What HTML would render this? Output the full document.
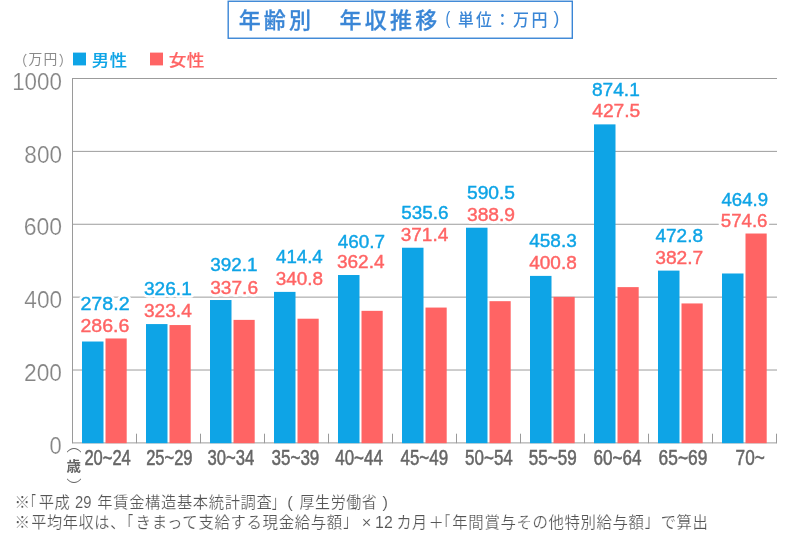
<!DOCTYPE html>
<html lang="ja"><head><meta charset="utf-8"><title>年齢別 年収推移</title>
<style>
html,body{margin:0;padding:0;background:#fff;}
body{width:800px;height:533px;overflow:hidden;}
svg{display:block;}
text{font-family:"Liberation Sans", "Noto Sans CJK JP", sans-serif;white-space:pre;}
.title{font-size:22px;font-weight:500;letter-spacing:3.2px;fill:#3a86d6;stroke:#3a86d6;stroke-width:0.25px;}
.sub{font-size:16px;font-weight:500;letter-spacing:2.4px;fill:#3a86d6;}
.subc{font-size:16px;font-weight:500;fill:#3a86d6;}
.subp{font-size:18px;font-weight:400;fill:#3a86d6;}
.unit{font-size:13.5px;font-weight:400;letter-spacing:1.2px;fill:#8a8a8a;}
.unitp{font-size:13.5px;font-weight:400;fill:#8a8a8a;}
.legm{font-size:17.5px;font-weight:500;letter-spacing:0.5px;fill:#0ea4e6;stroke:#0ea4e6;stroke-width:0.12px;}
.legf{font-size:17.5px;font-weight:500;letter-spacing:0.5px;fill:#ff6464;stroke:#ff6464;stroke-width:0.12px;}
.yl{font-size:23.5px;font-weight:400;fill:#858585;stroke:#fff;stroke-width:0.2px;}
.xl{font-size:20px;font-weight:400;fill:#666;stroke:#666;stroke-width:0.5px;}
.vm{font-size:18px;font-weight:400;fill:#0ea4e6;stroke:#0ea4e6;stroke-width:0.4px;}
.vf{font-size:18px;font-weight:400;fill:#ff6464;stroke:#ff6464;stroke-width:0.4px;}
.age{font-size:14.5px;font-weight:700;fill:#666;}
.agep{font-size:14.5px;font-weight:300;fill:#666;}
.note{font-size:15.5px;font-weight:400;letter-spacing:0.6px;fill:#555;stroke:#fff;stroke-width:0.2px;}
.noten{font-size:16.5px;font-weight:400;fill:#555;stroke:#fff;stroke-width:0.12px;}
.halo{fill:#fff;stroke:#fff;stroke-width:5.4px;stroke-linejoin:round;}
</style></head><body>
<svg width="800" height="533" viewBox="0 0 800 533">
<rect width="800" height="533" fill="#fff"/>
<rect x="228.2" y="1.25" width="344.1" height="37.0" fill="#fff" stroke="#3a86d6" stroke-width="1.4"/>
<rect x="73" y="52.6" width="13" height="12.8" fill="#0ea4e6"/>
<rect x="150" y="52.6" width="13" height="12.8" fill="#ff6464"/>
<line x1="72" y1="78.5" x2="777" y2="78.5" stroke="#9c9c9c" stroke-width="1"/>
<line x1="72" y1="151.38" x2="777" y2="151.38" stroke="#9c9c9c" stroke-width="1"/>
<line x1="72" y1="224.26" x2="777" y2="224.26" stroke="#9c9c9c" stroke-width="1"/>
<line x1="72" y1="297.14" x2="777" y2="297.14" stroke="#9c9c9c" stroke-width="1"/>
<line x1="72" y1="370.02" x2="777" y2="370.02" stroke="#9c9c9c" stroke-width="1"/>
<line x1="72" y1="442.9" x2="777" y2="442.9" stroke="#9c9c9c" stroke-width="1"/>
<line x1="72.5" y1="78" x2="72.5" y2="443.2" stroke="#9a9a9a" stroke-width="1"/>
<line x1="136.5" y1="433.7" x2="136.5" y2="443.2" stroke="#9a9a9a" stroke-width="1"/>
<line x1="200.5" y1="433.7" x2="200.5" y2="443.2" stroke="#9a9a9a" stroke-width="1"/>
<line x1="264.5" y1="433.7" x2="264.5" y2="443.2" stroke="#9a9a9a" stroke-width="1"/>
<line x1="328.5" y1="433.7" x2="328.5" y2="443.2" stroke="#9a9a9a" stroke-width="1"/>
<line x1="392.5" y1="433.7" x2="392.5" y2="443.2" stroke="#9a9a9a" stroke-width="1"/>
<line x1="456.5" y1="433.7" x2="456.5" y2="443.2" stroke="#9a9a9a" stroke-width="1"/>
<line x1="520.5" y1="433.7" x2="520.5" y2="443.2" stroke="#9a9a9a" stroke-width="1"/>
<line x1="584.5" y1="433.7" x2="584.5" y2="443.2" stroke="#9a9a9a" stroke-width="1"/>
<line x1="648.5" y1="433.7" x2="648.5" y2="443.2" stroke="#9a9a9a" stroke-width="1"/>
<line x1="712.5" y1="433.7" x2="712.5" y2="443.2" stroke="#9a9a9a" stroke-width="1"/>
<line x1="776.5" y1="433.7" x2="776.5" y2="443.2" stroke="#9a9a9a" stroke-width="1"/>
<text class="vm halo" transform="matrix(1.0920 0 0 1.0249 80.43 309.91)">278.2</text>
<text class="vf halo" transform="matrix(1.0857 0 0 1.0231 80.44 331.89)">286.6</text>
<text class="vm halo" transform="matrix(1.0625 0 0 1.0249 143.97 295.16)">326.1</text>
<text class="vf halo" transform="matrix(1.0621 0 0 1.0231 143.97 316.89)">323.4</text>
<text class="vm halo" transform="matrix(1.0511 0 0 1.0249 210.22 271.41)">392.1</text>
<text class="vf halo" transform="matrix(1.0625 0 0 1.0231 210.22 293.64)">337.6</text>
<text class="vm halo" transform="matrix(1.0393 0 0 1.0249 275.99 262.53)">414.4</text>
<text class="vf halo" transform="matrix(1.0511 0 0 1.0231 275.72 285.14)">340.8</text>
<text class="vm halo" transform="matrix(1.0511 0 0 1.0249 337.74 248.31)">460.7</text>
<text class="vf halo" transform="matrix(1.0565 0 0 1.0231 336.97 268.29)">362.4</text>
<text class="vm halo" transform="matrix(1.0511 0 0 1.0249 401.22 219.41)">535.6</text>
<text class="vf halo" transform="matrix(1.0565 0 0 1.0231 400.72 241.39)">371.4</text>
<text class="vm halo" transform="matrix(1.0682 0 0 1.0249 466.97 198.66)">590.5</text>
<text class="vf halo" transform="matrix(1.0682 0 0 1.0231 466.97 220.64)">388.9</text>
<text class="vm halo" transform="matrix(1.0565 0 0 1.0249 529.24 246.91)">458.3</text>
<text class="vf halo" transform="matrix(1.0565 0 0 1.0231 529.24 269.39)">400.8</text>
<text class="vm halo" transform="matrix(1.0625 0 0 1.0249 591.97 95.66)">874.1</text>
<text class="vf halo" transform="matrix(1.0678 0 0 1.0231 592.23 117.39)">427.5</text>
<text class="vm halo" transform="matrix(1.0565 0 0 1.0249 655.49 242.41)">472.8</text>
<text class="vf halo" transform="matrix(1.0686 0 0 1.0231 655.22 264.39)">382.7</text>
<text class="vm halo" transform="matrix(1.0339 0 0 1.0249 721.49 205.66)">464.9</text>
<text class="vf halo" transform="matrix(1.0398 0 0 1.0231 720.73 227.39)">574.6</text>
<rect x="82.00" y="341.52" width="21.5" height="101.68" fill="#0ea4e6"/>
<rect x="105.50" y="338.46" width="21.2" height="104.74" fill="#ff6464"/>
<rect x="146.00" y="324.07" width="21.5" height="119.13" fill="#0ea4e6"/>
<rect x="169.50" y="325.05" width="21.2" height="118.15" fill="#ff6464"/>
<rect x="210.00" y="300.02" width="21.5" height="143.18" fill="#0ea4e6"/>
<rect x="233.50" y="319.88" width="21.2" height="123.32" fill="#ff6464"/>
<rect x="274.00" y="291.89" width="21.5" height="151.31" fill="#0ea4e6"/>
<rect x="297.50" y="318.71" width="21.2" height="124.49" fill="#ff6464"/>
<rect x="338.00" y="275.02" width="21.5" height="168.18" fill="#0ea4e6"/>
<rect x="361.50" y="310.84" width="21.2" height="132.36" fill="#ff6464"/>
<rect x="402.00" y="247.73" width="21.5" height="195.47" fill="#0ea4e6"/>
<rect x="425.50" y="307.56" width="21.2" height="135.64" fill="#ff6464"/>
<rect x="466.00" y="227.72" width="21.5" height="215.48" fill="#0ea4e6"/>
<rect x="489.50" y="301.18" width="21.2" height="142.02" fill="#ff6464"/>
<rect x="530.00" y="275.90" width="21.5" height="167.30" fill="#0ea4e6"/>
<rect x="553.50" y="296.85" width="21.2" height="146.35" fill="#ff6464"/>
<rect x="594.00" y="124.38" width="21.5" height="318.82" fill="#0ea4e6"/>
<rect x="617.50" y="287.12" width="21.2" height="156.08" fill="#ff6464"/>
<rect x="658.00" y="270.61" width="21.5" height="172.59" fill="#0ea4e6"/>
<rect x="681.50" y="303.44" width="21.2" height="139.76" fill="#ff6464"/>
<rect x="722.00" y="273.49" width="21.5" height="169.71" fill="#0ea4e6"/>
<rect x="745.50" y="233.52" width="21.2" height="209.68" fill="#ff6464"/>
<text class="title" transform="matrix(1.0015 0 0 1.0048 238.65 28.29)">年齢別　年収推移</text>
<text class="subp" transform="matrix(0.7895 0 0 1.0448 445.46 24.18)">(</text>
<text class="sub" transform="matrix(0.9850 0 0 1.0743 458.01 26.28)">単位</text>
<text class="subc" transform="matrix(0.9925 0 0 1.0743 494.56 26.45)">：</text>
<text class="sub" transform="matrix(1.0000 0 0 1.0743 513.00 25.84)">万円</text>
<text class="subp" transform="matrix(0.9667 0 0 1.0448 553.51 24.18)">)</text>
<text class="unitp" transform="matrix(0.9846 0 0 1.0353 13.95 64.51)">（</text>
<text class="unit" transform="matrix(1.0189 0 0 1.0435 28.49 64.16)">万円</text>
<text class="unitp" transform="matrix(0.9846 0 0 1.0353 58.76 64.51)">）</text>
<text class="legm" transform="matrix(0.9912 0 0 0.9292 91.86 65.51)">男性</text>
<text class="legf" transform="matrix(1.0118 0 0 0.9292 168.64 65.51)">女性</text>
<text class="yl" transform="matrix(0.9535 0 0 0.9791 12.13 89.66)">1000</text>
<text class="yl" transform="matrix(0.9611 0 0 0.9791 24.34 162.54)">800</text>
<text class="yl" transform="matrix(0.9784 0 0 0.9791 23.78 235.42)">600</text>
<text class="yl" transform="matrix(0.9642 0 0 0.9791 24.32 308.30)">400</text>
<text class="yl" transform="matrix(0.9676 0 0 0.9791 24.09 381.18)">200</text>
<text class="yl" transform="matrix(0.9333 0 0 0.9791 49.57 453.76)">0</text>
<text class="xl" transform="matrix(0.8273 0 0 1.0644 84.38 464.97)">20~24</text>
<text class="xl" transform="matrix(0.8265 0 0 1.0644 146.13 464.97)">25~29</text>
<text class="xl" transform="matrix(0.8326 0 0 1.0644 207.58 464.97)">30~34</text>
<text class="xl" transform="matrix(0.8500 0 0 1.0644 271.57 464.97)">35~39</text>
<text class="xl" transform="matrix(0.8468 0 0 1.0644 335.29 464.97)">40~44</text>
<text class="xl" transform="matrix(0.8462 0 0 1.0644 400.54 464.97)">45~49</text>
<text class="xl" transform="matrix(0.8507 0 0 1.0644 465.07 464.97)">50~54</text>
<text class="xl" transform="matrix(0.8545 0 0 1.0644 528.82 464.97)">55~59</text>
<text class="xl" transform="matrix(0.8545 0 0 1.0644 593.61 464.97)">60~64</text>
<text class="xl" transform="matrix(0.8676 0 0 1.0644 658.60 464.97)">65~69</text>
<text class="xl" transform="matrix(0.8615 0 0 1.0644 735.60 464.97)">70~</text>
<text class="vm" transform="matrix(1.0920 0 0 1.0249 80.43 309.91)">278.2</text>
<text class="vf" transform="matrix(1.0857 0 0 1.0231 80.44 331.89)">286.6</text>
<text class="vm" transform="matrix(1.0625 0 0 1.0249 143.97 295.16)">326.1</text>
<text class="vf" transform="matrix(1.0621 0 0 1.0231 143.97 316.89)">323.4</text>
<text class="vm" transform="matrix(1.0511 0 0 1.0249 210.22 271.41)">392.1</text>
<text class="vf" transform="matrix(1.0625 0 0 1.0231 210.22 293.64)">337.6</text>
<text class="vm" transform="matrix(1.0393 0 0 1.0249 275.99 262.53)">414.4</text>
<text class="vf" transform="matrix(1.0511 0 0 1.0231 275.72 285.14)">340.8</text>
<text class="vm" transform="matrix(1.0511 0 0 1.0249 337.74 248.31)">460.7</text>
<text class="vf" transform="matrix(1.0565 0 0 1.0231 336.97 268.29)">362.4</text>
<text class="vm" transform="matrix(1.0511 0 0 1.0249 401.22 219.41)">535.6</text>
<text class="vf" transform="matrix(1.0565 0 0 1.0231 400.72 241.39)">371.4</text>
<text class="vm" transform="matrix(1.0682 0 0 1.0249 466.97 198.66)">590.5</text>
<text class="vf" transform="matrix(1.0682 0 0 1.0231 466.97 220.64)">388.9</text>
<text class="vm" transform="matrix(1.0565 0 0 1.0249 529.24 246.91)">458.3</text>
<text class="vf" transform="matrix(1.0565 0 0 1.0231 529.24 269.39)">400.8</text>
<text class="vm" transform="matrix(1.0625 0 0 1.0249 591.97 95.66)">874.1</text>
<text class="vf" transform="matrix(1.0678 0 0 1.0231 592.23 117.39)">427.5</text>
<text class="vm" transform="matrix(1.0565 0 0 1.0249 655.49 242.41)">472.8</text>
<text class="vf" transform="matrix(1.0686 0 0 1.0231 655.22 264.39)">382.7</text>
<text class="vm" transform="matrix(1.0339 0 0 1.0249 721.49 205.66)">464.9</text>
<text class="vf" transform="matrix(1.0398 0 0 1.0231 720.73 227.39)">574.6</text>
<text class="agep" transform="matrix(1.0370 0 0 1.3231 66.38 451.18)">︵</text>
<text class="age" transform="matrix(1.0000 0 0 0.9704 66.50 471.09)">歳</text>
<text class="agep" transform="matrix(1.0370 0 0 1.4154 66.48 496.48)">︶</text>
<text class="note" transform="matrix(1.0000 0 0 1.0000 14.43 508.20)">※</text>
<text class="note" transform="matrix(0.7400 0 0 1.2500 24.50 511.25)">「</text>
<text class="note" transform="matrix(0.9884 0 0 1.0000 38.66 508.20)">平成</text>
<text class="noten" transform="matrix(0.8955 0 0 1.0000 74.93 508.20)">29</text>
<text class="note" transform="matrix(0.9894 0 0 1.0000 97.36 508.20)">年賃金構造基本統計調査</text>
<text class="note" transform="matrix(0.8000 0 0 1.1900 271.85 507.91)">」</text>
<text class="noten" transform="matrix(1.0000 0 0 1.0000 287.18 508.20)">(</text>
<text class="note" transform="matrix(0.9683 0 0 1.0000 299.52 508.20)">厚生労働省</text>
<text class="noten" transform="matrix(1.0000 0 0 1.0000 382.62 508.20)">)</text>
<text class="note" transform="matrix(1.0000 0 0 1.0000 14.43 527.80)">※</text>
<text class="note" transform="matrix(0.9789 0 0 1.0000 31.17 527.80)">平均年収は</text>
<text class="note" transform="matrix(1.0000 0 0 1.0000 110.12 527.80)">、</text>
<text class="note" transform="matrix(0.8600 0 0 1.2500 120.00 531.05)">「</text>
<text class="note" transform="matrix(0.9978 0 0 1.0000 135.61 527.80)">きまって支給する現金給与額</text>
<text class="note" transform="matrix(0.8800 0 0 1.1900 343.36 527.41)">」</text>
<text class="noten" transform="matrix(1.0000 0 0 1.0000 361.70 527.80)">×</text>
<text class="noten" transform="matrix(0.9631 0 0 1.0000 375.05 527.80)">12</text>
<text class="note" transform="matrix(0.9741 0 0 1.0000 396.40 527.80)">カ月</text>
<text class="note" transform="matrix(1.0000 0 0 1.0000 428.50 527.80)">＋</text>
<text class="note" transform="matrix(0.8400 0 0 1.2500 437.20 531.05)">「</text>
<text class="note" transform="matrix(0.9956 0 0 1.0000 452.35 527.80)">年間賞与その他特別給与額</text>
<text class="note" transform="matrix(0.8800 0 0 1.1900 644.86 527.41)">」</text>
<text class="note" transform="matrix(0.9911 0 0 1.0000 660.66 527.80)">で算出</text>
</svg>
</body></html>
